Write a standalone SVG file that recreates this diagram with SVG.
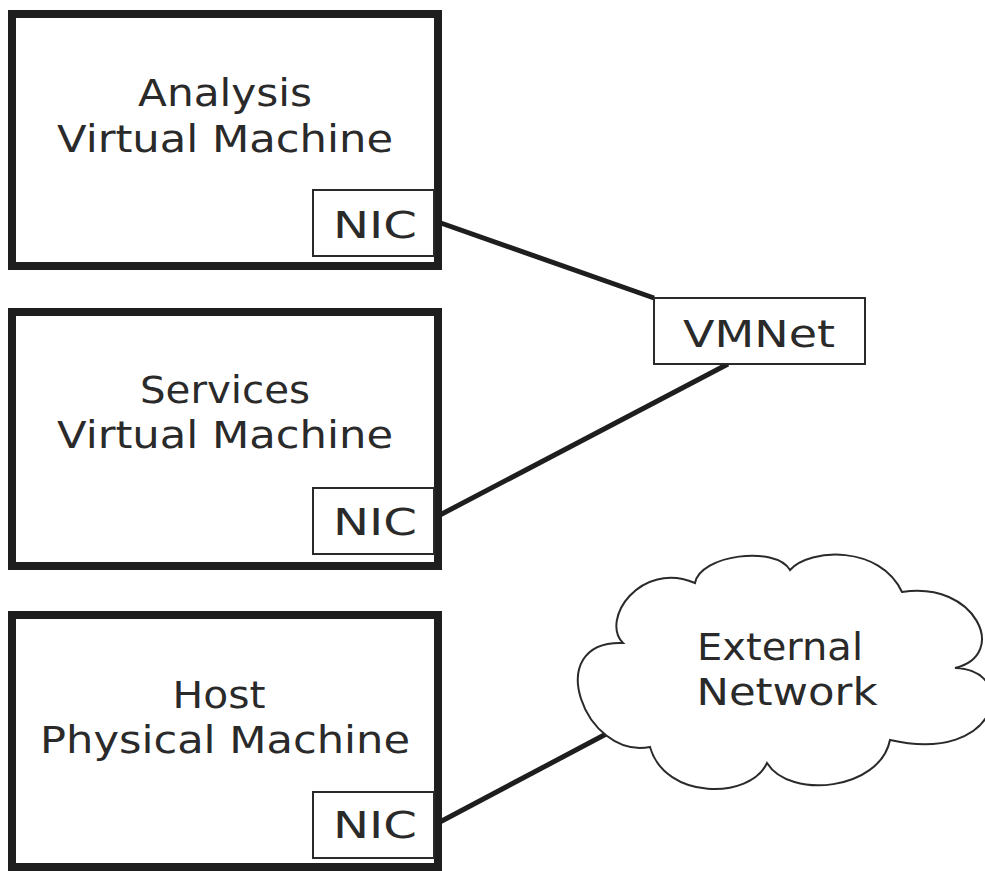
<svg xmlns="http://www.w3.org/2000/svg" width="985" height="871" viewBox="0 0 985 871">
<style>
.box{fill:#fff;stroke:#1e1e1e;stroke-width:8}
.nic{fill:#fff;stroke:#2a2a2a;stroke-width:2}
.lbl{font-family:"DejaVu Sans","Liberation Sans",sans-serif;font-size:37px;fill:#2a2a2a;text-anchor:middle}
.conn{stroke:#1e1e1e;stroke-width:5;fill:none;stroke-linecap:butt}
.cloud{fill:#fff;stroke:#2a2a2a;stroke-width:2}
</style>
<rect width="985" height="871" fill="#fff"/>
<g id="connectors">
<line class="conn" x1="438" y1="222" x2="654" y2="298"/>
<line class="conn" x1="438" y1="516" x2="728" y2="364"/>
<line class="conn" x1="438" y1="823" x2="608" y2="733"/>
</g>
<g id="analysis-vm">
<rect class="box" x="12" y="14" width="426" height="252"/>
<text class="lbl" x="225" y="106" textLength="174" lengthAdjust="spacingAndGlyphs">Analysis</text>
<text class="lbl" x="225" y="152" textLength="336" lengthAdjust="spacingAndGlyphs">Virtual Machine</text>
</g>
<g id="analysis-nic">
<rect class="nic" x="313" y="190" width="121" height="66"/>
<text class="lbl" x="375" y="238" textLength="84" lengthAdjust="spacingAndGlyphs">NIC</text>
</g>
<g id="services-vm">
<rect class="box" x="12" y="312" width="426" height="254"/>
<text class="lbl" x="225" y="403" textLength="170" lengthAdjust="spacingAndGlyphs">Services</text>
<text class="lbl" x="225" y="448" textLength="336" lengthAdjust="spacingAndGlyphs">Virtual Machine</text>
</g>
<g id="services-nic">
<rect class="nic" x="313" y="488" width="121" height="66"/>
<text class="lbl" x="375" y="535" textLength="84" lengthAdjust="spacingAndGlyphs">NIC</text>
</g>
<g id="host-pm">
<rect class="box" x="12" y="615" width="426" height="252"/>
<text class="lbl" x="219" y="708" textLength="93" lengthAdjust="spacingAndGlyphs">Host</text>
<text class="lbl" x="225" y="753" textLength="370" lengthAdjust="spacingAndGlyphs">Physical Machine</text>
</g>
<g id="host-nic">
<rect class="nic" x="313" y="792" width="121" height="66"/>
<text class="lbl" x="375" y="838" textLength="84" lengthAdjust="spacingAndGlyphs">NIC</text>
</g>
<g id="vmnet">
<rect class="nic" x="654" y="298" width="211" height="66"/>
<text class="lbl" x="759" y="347" textLength="152" lengthAdjust="spacingAndGlyphs">VMNet</text>
</g>
<g id="external-network">
<path class="cloud" d="M650,747 C585,760 540,640 623,643 C600,620 640,560 695,583 C700,555 775,545 790,570 C810,548 880,545 902,592 C975,580 1010,655 955,668 C1020,670 1000,765 890,740 C880,790 790,800 767,763 C750,800 665,800 650,747 Z"/>
<text class="lbl" x="780" y="660" textLength="166" lengthAdjust="spacingAndGlyphs">External</text>
<text class="lbl" x="787" y="705" textLength="181" lengthAdjust="spacingAndGlyphs">Network</text>
</g>
</svg>
